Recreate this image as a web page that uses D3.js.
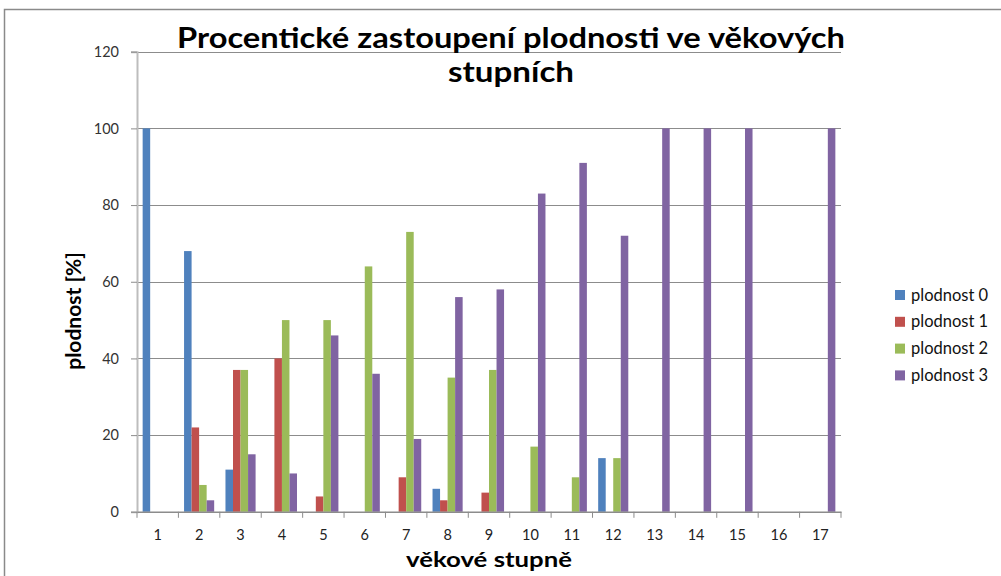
<!DOCTYPE html>
<html><head><meta charset="utf-8">
<script src="https://cdn.jsdelivr.net/npm/d3@7"></script>
<style>body{margin:0;background:#fff}svg{display:block}</style>
</head><body>
<svg id="c" width="1001" height="576"></svg>
<script>
const categories = ["1","2","3","4","5","6","7","8","9","10","11","12","13","14","15","16","17"];
const seriesNames = ["plodnost 0","plodnost 1","plodnost 2","plodnost 3"];
const plodnost0 = [100,68,11,0,0,0,0,6,0,0,0,14,0,0,0,0,0];
const plodnost1 = [0,22,37,40,4,0,9,3,5,0,0,0,0,0,0,0,0];
const plodnost2 = [0,7,37,50,50,64,73,35,37,17,9,14,0,0,0,0,0];
const plodnost3 = [0,3,15,10,46,36,19,56,58,83,91,72,100,100,100,0,100];
const yTicks = [0,20,40,60,80,100,120];
const colors = ["#4F81BD","#C0504D","#9BBB59","#8064A2"];
const titleLines = ["Procentické zastoupení plodnosti ve věkových","stupních"];
const yTitle = "plodnost [%]";
const xTitle = "věkové stupně";

const values = [plodnost0, plodnost1, plodnost2, plodnost3];
const font = "Lato, 'Open Sans', sans-serif";
const svg = d3.select("#c");

// border
svg.append("rect").attr("x",4.5).attr("y",9.5).attr("width",1010).attr("height",600)
  .attr("fill","none").attr("stroke","#8a8a8a").attr("stroke-width",1.5);

const x = d3.scaleBand().domain(categories).range([137,841]).paddingInner(0).paddingOuter(0);
const xs = d3.scaleBand().domain(seriesNames).range([0,x.bandwidth()]).paddingInner(0).paddingOuter(0.75);
const y = d3.scaleLinear().domain([0,120]).range([511.8,51.7]);

// gridlines
svg.append("g").selectAll("line").data(yTicks.filter(t=>t>0)).join("line")
  .attr("x1",137).attr("x2",841).attr("y1",d=>Math.round(y(d))+0.5).attr("y2",d=>Math.round(y(d))+0.5)
  .attr("stroke","#8c8c8c").attr("stroke-width",1);

// bars
const rows = [];
categories.forEach((c,i)=>seriesNames.forEach((s,j)=>rows.push({c,s,j,v:values[j][i]})));
svg.append("g").selectAll("rect").data(rows.filter(d=>d.v>0)).join("rect")
  .attr("x",d=>x(d.c)+xs(d.s)).attr("width",xs.bandwidth())
  .attr("y",d=>y(d.v)).attr("height",d=>y(0)-y(d.v))
  .attr("fill",d=>colors[d.j]);

// y axis
const yAxis = d3.axisLeft(y).tickValues(yTicks).tickSize(6).tickPadding(12).tickFormat(d3.format("d"));
const gy = svg.append("g").attr("transform","translate(137,0)").call(yAxis);
gy.select(".domain").attr("stroke","#bdbdbd").attr("stroke-width",2);
gy.selectAll(".tick line").attr("stroke","#8c8c8c");
gy.selectAll(".tick text").attr("font-family",font).attr("font-size",14.5).attr("fill","#333");

// x axis
const xAxis = d3.axisBottom(x).tickSize(0).tickPadding(18);
const gx = svg.append("g").attr("transform",`translate(0,${y(0)})`).call(xAxis);
gx.select(".domain").attr("stroke","#8c8c8c").attr("stroke-width",1.5);
gx.selectAll(".tick text").attr("font-family",font).attr("font-size",14.5).attr("fill","#222");
const bounds = categories.map(c=>x(c)).concat([x(categories[categories.length-1])+x.bandwidth()]);
svg.append("g").selectAll("line").data(bounds).join("line")
  .attr("x1",d=>d).attr("x2",d=>d).attr("y1",y(0)).attr("y2",y(0)+6)
  .attr("stroke","#8c8c8c");

// title
const titleWidths = [668, 126];
svg.append("g").selectAll("text").data(titleLines).join("text")
  .attr("x",511).attr("y",(d,i)=>48+i*34).attr("text-anchor","middle")
  .attr("font-family",font).attr("font-weight","bold").attr("font-size",29).attr("fill","#000")
  .attr("textLength",(d,i)=>titleWidths[i]).attr("lengthAdjust","spacingAndGlyphs")
  .text(d=>d);

// axis titles
svg.append("text").attr("transform","translate(81,311) rotate(-90)").attr("text-anchor","middle")
  .attr("font-family",font).attr("font-weight","bold").attr("font-size",21).text(yTitle);
svg.append("text").attr("x",489).attr("y",567).attr("text-anchor","middle")
  .attr("font-family",font).attr("font-weight","bold").attr("font-size",21)
  .attr("textLength",166).attr("lengthAdjust","spacingAndGlyphs").text(xTitle);

// legend
const lg = svg.append("g").selectAll("g").data(seriesNames).join("g")
  .attr("transform",(d,i)=>`translate(895,${295+i*26.8})`);
lg.append("rect").attr("x",0).attr("y",-5).attr("width",10).attr("height",10).attr("fill",(d,i)=>colors[i]);
lg.append("text").attr("x",16).attr("y",5.5).attr("font-family",font).attr("font-size",16.5).attr("fill","#111").text(d=>d);
</script>
</body></html>
